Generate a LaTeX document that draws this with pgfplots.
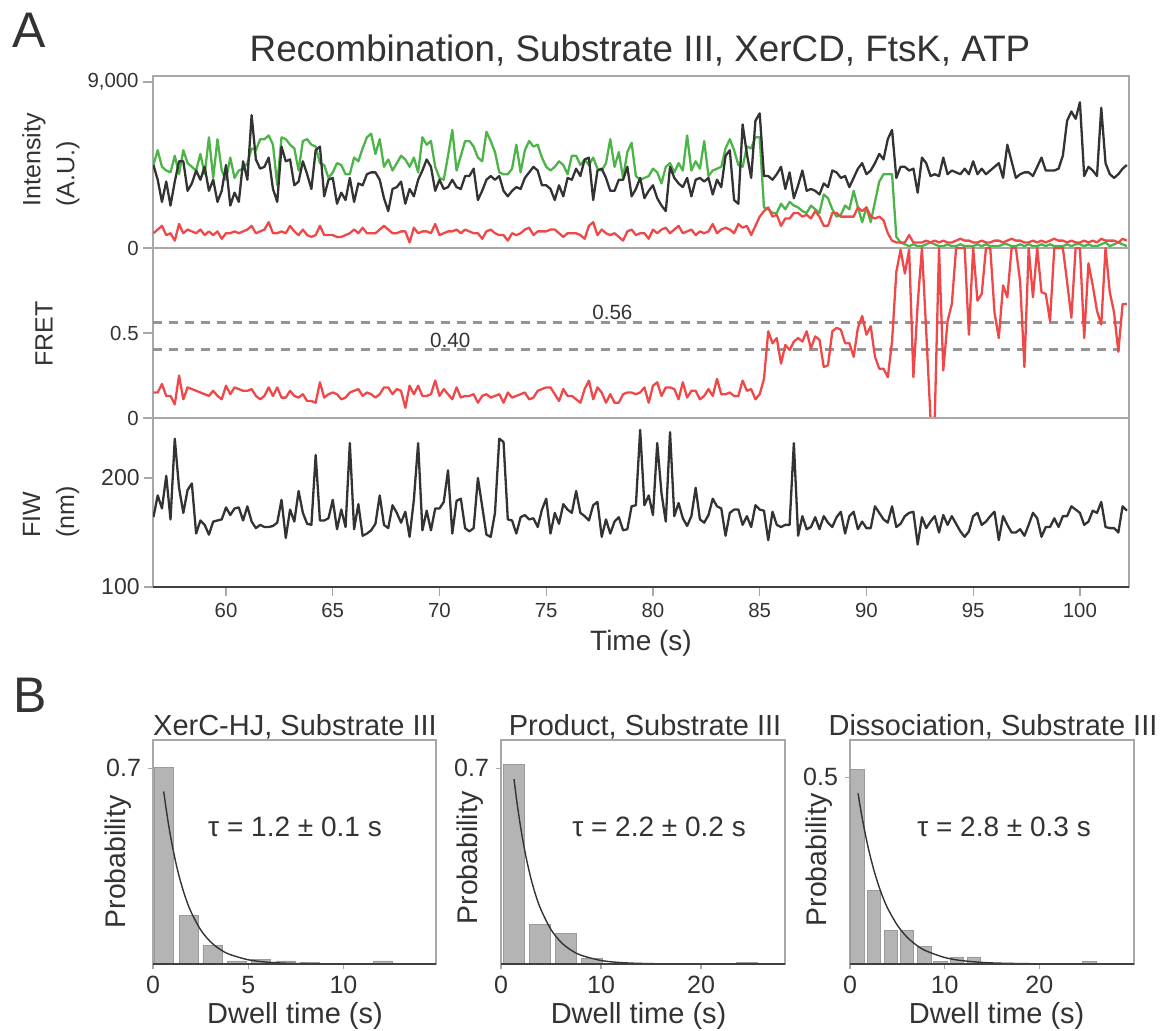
\documentclass[border=0pt]{standalone}
\usepackage{fontspec}
\setmainfont{Liberation Sans}
\usepackage{pgfplots}
\pgfplotsset{compat=1.18}
\usepackage{pgfplotstable}
\definecolor{txt}{HTML}{333333}
\definecolor{tgreen}{HTML}{4CB448}
\definecolor{tred}{HTML}{F04848}
\definecolor{tblack}{HTML}{333333}
\definecolor{framegray}{HTML}{A8A8A8}
\definecolor{bargray}{HTML}{B4B4B4}
\definecolor{baredge}{HTML}{9A9A9A}

\pgfplotstableread{
t blk grn red fret fiw
56.6 4500 4500 800 0.15 164
56.8 3700 5300 1000 0.15 184
57.0 2500 4400 1200 0.20 172
57.2 3600 4200 700 0.13 202
57.4 2300 4100 800 0.13 162
57.6 3600 5000 400 0.08 236
57.8 4700 4000 1300 0.25 191
58.0 4700 5300 800 0.11 168
58.2 3100 4600 1000 0.18 189
58.4 3500 4400 900 0.17 195
58.6 4200 4200 800 0.16 149
58.8 3700 5100 1000 0.15 161
59.0 4400 4000 700 0.14 157
59.2 3100 6000 900 0.13 148
59.4 3700 3800 700 0.16 160
59.6 2500 5900 900 0.13 161
59.8 3100 4200 500 0.11 162
60.0 4500 3700 800 0.19 173
60.2 2300 4900 800 0.14 166
60.4 3000 3800 900 0.18 172
60.6 2500 4200 800 0.17 173
60.8 4700 4300 900 0.16 161
61.0 3700 4600 1000 0.16 174
61.2 7200 5400 1200 0.17 160
61.4 4800 5300 800 0.13 154
61.6 4300 5900 900 0.11 157
61.8 4400 5900 1000 0.13 155
62.0 4900 6100 1400 0.18 155
62.2 3200 5600 800 0.13 156
62.4 2500 3400 800 0.18 159
62.6 5500 6000 900 0.12 180
62.8 4700 5900 800 0.12 145
63.0 4800 5600 1200 0.16 171
63.2 3400 5400 900 0.13 160
63.4 3600 4200 700 0.12 188
63.6 4700 5800 1000 0.14 168
63.8 4000 5900 700 0.10 158
64.0 3200 5600 600 0.10 157
64.2 5300 5500 700 0.09 221
64.4 5500 4600 1200 0.21 161
64.6 2800 4500 700 0.12 161
64.8 3700 3800 700 0.14 163
65.0 3800 4100 700 0.15 180
65.2 2400 4600 600 0.14 153
65.4 3000 4500 600 0.11 171
65.6 2600 4000 700 0.12 155
65.8 3800 4000 800 0.15 232
66.0 2500 4900 1000 0.16 153
66.2 3500 4700 800 0.17 176
66.4 3400 5400 1100 0.13 147
66.6 4000 6000 800 0.15 149
66.8 4100 6200 800 0.14 152
67.0 4100 5100 800 0.12 158
67.2 3700 5900 1000 0.14 184
67.4 2700 4400 1200 0.18 157
67.6 2000 4800 1000 0.18 154
67.8 3200 4200 800 0.14 175
68.0 3300 4600 800 0.17 168
68.2 3600 5000 900 0.16 159
68.4 2400 4800 900 0.06 169
68.6 3200 4400 300 0.19 146
68.8 2800 4900 1100 0.14 180
69.0 3700 4100 800 0.19 232
69.2 4200 6000 900 0.13 152
69.4 4800 5600 900 0.13 170
69.6 4400 5800 800 0.14 152
69.8 3100 4400 1300 0.22 172
70.0 3700 3800 700 0.13 172
70.2 3200 3700 800 0.17 178
70.4 3300 5000 900 0.14 207
70.6 3700 6400 900 0.11 149
70.8 3300 4200 1000 0.18 179
71.0 3200 5000 800 0.12 181
71.2 3900 5800 1000 0.13 154
71.4 3900 5800 900 0.13 151
71.6 4300 5500 800 0.14 154
71.8 2600 4900 800 0.09 200
72.0 3100 4700 500 0.13 174
72.2 3700 6300 900 0.14 148
72.4 3900 5800 1000 0.12 146
72.6 3700 5200 800 0.13 168
72.8 3900 4100 700 0.14 236
73.0 3100 4000 700 0.09 233
73.2 2800 4000 400 0.15 162
73.4 3100 4300 800 0.12 161
73.6 3300 5600 700 0.13 149
73.8 3200 4100 800 0.14 164
74.0 3800 5300 1000 0.15 166
74.2 4100 5800 1100 0.11 162
74.4 4400 5500 700 0.12 163
74.6 4200 5600 900 0.16 155
74.8 3400 4900 900 0.17 171
75.0 3400 4400 900 0.18 181
75.2 3200 4200 1000 0.18 149
75.4 2600 4400 1000 0.14 168
75.6 3400 4700 800 0.10 158
75.8 2800 4500 600 0.17 176
76.0 3800 4000 800 0.13 171
76.2 3700 5000 800 0.13 168
76.4 4300 5000 800 0.11 188
76.6 3900 4500 700 0.09 168
76.8 4800 4800 500 0.17 165
77.0 4900 4500 1200 0.22 161
77.2 2600 4900 1400 0.11 175
77.4 4200 4300 700 0.18 178
77.6 4300 4200 1000 0.15 146
77.8 3800 4600 800 0.09 162
78.0 3100 5900 700 0.14 149
78.2 3100 4400 800 0.09 160
78.4 3700 5200 600 0.09 164
78.6 3700 3800 400 0.14 152
78.8 4400 5200 900 0.15 153
79.0 2800 5700 1000 0.15 174
79.2 3200 3900 700 0.14 175
79.4 3800 3700 800 0.15 244
79.6 2700 3800 800 0.18 175
79.8 3100 3900 500 0.09 184
80.0 3400 4300 1000 0.19 166
80.2 2700 4100 800 0.21 232
80.4 2300 3500 1000 0.13 186
80.6 2000 4400 1100 0.18 160
80.8 4400 4600 800 0.18 242
81.0 3800 4100 1000 0.17 165
81.2 3500 4600 1200 0.11 177
81.4 3300 4200 800 0.21 163
81.6 3800 6100 900 0.12 156
81.8 2800 4200 1000 0.16 165
82.0 3700 4700 700 0.16 191
82.2 3800 4300 900 0.11 162
82.4 3600 5800 800 0.13 159
82.6 3800 3900 900 0.17 166
82.8 2900 4200 1300 0.13 181
83.0 3700 4300 800 0.23 174
83.2 3300 4400 1000 0.14 172
83.4 5000 5400 1100 0.14 147
83.6 5300 5900 1000 0.15 168
83.8 2600 5300 800 0.13 171
84.0 2400 4500 1300 0.13 171
84.2 6700 4400 1100 0.22 157
84.4 5100 5500 1200 0.16 165
84.6 3800 5400 700 0.17 155
84.8 6900 6000 1200 0.11 175
85.0 7300 6000 1700 0.14 171
85.2 3900 2200 2000 0.23 170
85.4 3900 2100 2200 0.51 143
85.6 3700 1900 1700 0.44 169
85.8 4000 1900 1800 0.47 157
86.0 4400 2400 1200 0.32 155
86.2 3200 2100 1600 0.43 157
86.4 4100 2500 1600 0.40 157
86.6 2700 2300 1900 0.45 232
86.8 3400 2200 1900 0.47 147
87.0 4200 2000 1700 0.45 165
87.2 3100 1900 1800 0.51 153
87.4 3200 2300 1600 0.41 155
87.6 3100 2100 2000 0.48 164
87.8 2900 1900 1700 0.46 153
88.0 3500 2900 1200 0.30 165
88.2 3300 2700 1200 0.31 159
88.4 4200 2100 1900 0.51 155
88.6 4100 1700 1900 0.53 164
88.8 3800 1800 1700 0.52 169
89.0 3900 2300 1700 0.44 149
89.2 3300 2100 1700 0.44 165
89.4 3800 3100 1700 0.36 169
89.6 4300 2200 2200 0.53 153
89.8 4600 1400 2000 0.60 160
90.0 4000 2200 2200 0.49 154
90.2 4200 1400 1700 0.54 154
90.4 4600 2500 1600 0.36 174
90.6 5100 3600 1700 0.29 168
90.8 4800 4000 1500 0.29 162
91.0 5900 4000 800 0.24 159
91.2 6400 4000 400 0.45 174
91.4 3800 600 300 0.86 155
91.6 4400 300 300 0.99 158
91.8 4400 200 300 0.85 165
92.0 4200 100 700 0.99 168
92.2 4300 200 300 0.24 169
92.4 3000 100 300 0.67 139
92.6 4900 100 300 1.00 164
92.8 4600 200 400 0.51 154
93.0 3900 300 300 0.00 160
93.2 4000 200 400 0.00 165
93.4 3900 100 300 1.00 150
93.6 4900 100 400 0.28 166
93.8 4000 200 300 0.57 157
94.0 4200 100 300 0.67 165
94.2 4100 100 400 1.00 158
94.4 4000 200 500 1.00 151
94.6 4300 100 400 1.00 146
94.8 4000 100 400 0.49 151
95.0 4700 100 300 1.00 165
95.2 4000 200 300 0.69 168
95.4 4300 100 400 0.73 157
95.6 4000 200 300 1.00 160
95.8 4200 100 300 1.00 165
96.0 4400 100 400 0.62 169
96.2 4600 100 400 0.47 143
96.4 3800 200 300 0.78 165
96.6 5600 200 400 0.71 157
96.8 4700 100 500 1.00 150
97.0 3800 100 400 1.00 150
97.2 4000 200 400 0.80 153
97.4 4100 100 300 0.30 147
97.6 4100 200 300 1.00 157
97.8 3900 100 400 0.71 168
98.0 4400 100 300 1.00 163
98.2 4900 200 400 0.74 146
98.4 4200 100 300 0.73 155
98.6 4200 200 400 0.57 155
98.8 4200 100 500 1.00 163
99.0 4300 100 400 1.00 155
99.2 5000 100 400 1.00 165
99.4 6900 200 300 0.80 165
99.6 7400 100 400 0.59 174
99.8 7000 200 300 1.00 171
100.0 7900 200 300 1.00 168
100.2 3900 100 400 0.47 157
100.4 4400 200 300 0.91 160
100.6 4200 100 400 0.78 170
100.8 3900 100 300 0.63 168
101.0 7600 200 500 0.55 178
101.2 4600 300 400 1.00 155
101.4 4000 100 400 0.74 154
101.6 3800 200 400 0.62 154
101.8 4000 300 300 0.39 150
102.0 4300 200 500 0.67 174
102.2 4500 100 400 0.67 170
}\trace

\pgfplotsset{
  /pgf/number format/assume math mode=true,
  pA/.style={
    scale only axis, width=488pt,
    xmin=56.58, xmax=102.3,
    axis line style={draw=framegray, line width=0.6pt},
    tick style={draw=framegray, line width=0.6pt},
    tick align=outside, major tick length=5pt,
    ytick pos=left, xtick pos=bottom,
    yticklabel style={font=\fontsize{10.2}{12}\selectfont, text=txt, inner sep=2pt},
    xticklabel style={font=\fontsize{10.2}{12}\selectfont, text=txt},
    clip mode=individual,
  },
  pB/.style={
    scale only axis, height=112pt, ymin=0,
    axis line style={draw=framegray, line width=0.6pt},
    tick style={draw=framegray, line width=0.6pt},
    tick align=outside, major tick length=2.5pt,
    ytick pos=left, xtick pos=bottom,
    ticklabel style={font=\fontsize{12.5}{14}\selectfont, text=txt},
    clip mode=individual,
  },
  bars/.style={ybar, bar shift=0pt, fill=bargray, draw=baredge, line width=0.4pt},
  fit/.style={draw=txt, line width=0.7pt, mark=none, smooth},
  trace/.style={line width=1.15pt, line join=round},
}

\begin{document}
\begin{tikzpicture}[x=1pt,y=1pt]
\path[use as bounding box] (0pt,0pt) rectangle (585pt,-515.5pt);

% ---------------- Panel A ----------------
\node[anchor=base west, inner sep=0, font=\fontsize{25}{30}\selectfont, text=txt] at (6pt,-24pt) {A};
\node[anchor=base, inner sep=0, font=\fontsize{18.4}{22}\selectfont, text=txt] at (320pt,-31pt) {Recombination, Substrate III, XerCD, FtsK, ATP};

\begin{axis}[pA, at={(76.5pt,-38pt)}, anchor=north west, height=86pt,
  ymin=0, ymax=9325, xtick=\empty, ytick={0,9000}, yticklabels={0,{9,000}}]
\addplot[tgreen, trace] table[x=t, y=grn] {\trace};
\addplot[tblack, trace] table[x=t, y=blk] {\trace};
\addplot[tred, trace] table[x=t, y=red] {\trace};
\draw[black!85, line width=0.8pt] (rel axis cs:0,0) -- (rel axis cs:1,0);
\end{axis}

\begin{axis}[pA, at={(76.5pt,-124pt)}, anchor=north west, height=85pt,
  ymin=0, ymax=1, xtick=\empty, ytick={0,0.5}, yticklabels={0,0.5}]
\addplot[black!42, line width=1.5pt, dash pattern=on 4.5pt off 3.5pt] coordinates {(56.58,0.56) (101.9,0.56)};
\addplot[black!42, line width=1.5pt, dash pattern=on 4.5pt off 3.5pt] coordinates {(56.58,0.40) (101.9,0.40)};
\addplot[tred, trace] table[x=t, y=fret] {\trace};
\node[font=\fontsize{10.3}{12}\selectfont, text=txt] at (axis cs:78.1,0.62) {0.56};
\node[font=\fontsize{10.3}{12}\selectfont, text=txt] at (axis cs:70.5,0.455) {0.40};
\draw[black!85, line width=0.8pt] (rel axis cs:0,0) -- (rel axis cs:1,0);
\end{axis}

\begin{axis}[pA, at={(76.5pt,-209pt)}, anchor=north west, height=84.5pt,
  ymin=100, ymax=255, ytick={100,200}, yticklabels={100,200},
  yticklabel style={font=\fontsize{11.5}{13}\selectfont},
  xtick={60,65,70,75,80,85,90,95,100}, major tick length=4.5pt]
\addplot[tblack, trace] table[x=t, y=fiw] {\trace};
\draw[black!75, line width=0.8pt] (rel axis cs:0,0) -- (rel axis cs:1,0);
\end{axis}

\node[rotate=90, align=left, inner sep=0, font=\fontsize{12.5}{17}\selectfont, text=txt] at (25.5pt,-80pt) {Intensity\\(A.U.)};
\node[rotate=90, inner sep=0, font=\fontsize{12.5}{15}\selectfont, text=txt] at (22pt,-167pt) {FRET};
\node[rotate=90, align=left, inner sep=0, font=\fontsize{12.5}{17}\selectfont, text=txt] at (25.5pt,-256pt) {FIW\\(nm)};
\node[anchor=base, inner sep=0, font=\fontsize{14}{16}\selectfont, text=txt] at (320.5pt,-325pt) {Time (s)};

% ---------------- Panel B ----------------
\node[anchor=base west, inner sep=0, font=\fontsize{25}{30}\selectfont, text=txt] at (6.5pt,-356pt) {B};

\begin{axis}[pB, at={(76.5pt,-370pt)}, anchor=north west, width=141.5pt,
  xmin=0, xmax=14.86, ymax=0.801, xtick={0,5,10}, ytick={0.7}, yticklabels={0.7}]
\addplot[bars, bar width=1.0] coordinates {(0.56,0.704) (1.88,0.175) (3.12,0.066) (4.42,0.011) (5.68,0.017) (6.98,0.011) (8.26,0.005) (9.55,0.001) (10.8,0.001) (12.07,0.011) (13.4,0.002)};
\addplot[fit] coordinates {(0.56,0.617) (0.8,0.505) (1.0,0.428) (1.25,0.347) (1.5,0.282) (1.75,0.229) (2.0,0.186) (2.5,0.1225) (3.0,0.0808) (3.5,0.0533) (4.0,0.0351) (5.0,0.0152) (6.0,0.0066) (7.0,0.0029) (8.0,0.00125) (10.0,0.00024) (12.0,0.00004) (14.0,0.0)};
\draw[black!75, line width=0.7pt] (rel axis cs:0,0) -- (rel axis cs:1,0);
\end{axis}

\begin{axis}[pB, at={(250.5pt,-370pt)}, anchor=north west, width=142pt,
  xmin=0, xmax=28.4, ymax=0.801, xtick={0,10,20}, ytick={0.7}, yticklabels={0.7}]
\addplot[bars, bar width=2.07] coordinates {(1.28,0.712) (3.9,0.140) (6.47,0.110) (9.1,0.020) (11.67,0.002) (14.3,0.001) (24.6,0.007)};
\addplot[fit] coordinates {(1.3,0.661) (1.6,0.577) (2.0,0.481) (2.5,0.383) (3.0,0.305) (3.5,0.243) (4.0,0.194) (5.0,0.123) (6.0,0.078) (7.0,0.0496) (8.0,0.0315) (10.0,0.0127) (12.0,0.0051) (15.0,0.0013) (20.0,0.00013) (28.4,0.0)};
\draw[black!75, line width=0.7pt] (rel axis cs:0,0) -- (rel axis cs:1,0);
\end{axis}

\begin{axis}[pB, at={(425pt,-370pt)}, anchor=north west, width=142pt,
  xmin=0, xmax=30, ymax=0.6, xtick={0,10,20}, ytick={0.5}, yticklabels={0.5}]
\addplot[bars, bar width=1.41] coordinates {(0.78,0.522) (2.51,0.198) (4.31,0.091) (6.04,0.091) (7.84,0.046) (9.54,0.008) (11.31,0.019) (13.11,0.019) (14.9,0.001) (16.7,0.001) (25.3,0.008)};
\addplot[fit] coordinates {(0.85,0.457) (1.2,0.403) (1.6,0.350) (2.0,0.303) (2.5,0.2535) (3.0,0.212) (3.5,0.177) (4.0,0.148) (5.0,0.1038) (6.0,0.0726) (7.0,0.0508) (8.0,0.0355) (10.0,0.0174) (12.0,0.0085) (15.0,0.0029) (20.0,0.0005) (25.0,0.0001) (28.9,0.0)};
\draw[black!75, line width=0.7pt] (rel axis cs:0,0) -- (rel axis cs:1,0);
\end{axis}

\node[anchor=base, inner sep=0, font=\fontsize{14.5}{17}\selectfont, text=txt] at (147.5pt,-367.5pt) {XerC-HJ, Substrate III};
\node[anchor=base, inner sep=0, font=\fontsize{14.5}{17}\selectfont, text=txt] at (322.5pt,-367.5pt) {Product, Substrate III};
\node[anchor=base, inner sep=0, font=\fontsize{14.5}{17}\selectfont, text=txt] at (496.5pt,-367.5pt) {Dissociation, Substrate III};

\node[anchor=base, inner sep=0, font=\fontsize{14}{17}\selectfont, text=txt] at (147.5pt,-418.3pt) {τ = 1.2 ± 0.1 s};
\node[anchor=base, inner sep=0, font=\fontsize{14}{17}\selectfont, text=txt] at (329.5pt,-418.3pt) {τ = 2.2 ± 0.2 s};
\node[anchor=base, inner sep=0, font=\fontsize{14}{17}\selectfont, text=txt] at (502pt,-418pt) {τ = 2.8 ± 0.3 s};

\node[rotate=90, inner sep=0, font=\fontsize{14.2}{17}\selectfont, text=txt] at (59pt,-431pt) {Probability};
\node[rotate=90, inner sep=0, font=\fontsize{14.2}{17}\selectfont, text=txt] at (235pt,-429pt) {Probability};
\node[rotate=90, inner sep=0, font=\fontsize{14.2}{17}\selectfont, text=txt] at (409.5pt,-430pt) {Probability};

\node[anchor=base, inner sep=0, font=\fontsize{14.5}{17}\selectfont, text=txt] at (147.5pt,-511.5pt) {Dwell time (s)};
\node[anchor=base, inner sep=0, font=\fontsize{14.5}{17}\selectfont, text=txt] at (319.3pt,-511.5pt) {Dwell time (s)};
\node[anchor=base, inner sep=0, font=\fontsize{14.5}{17}\selectfont, text=txt] at (498.3pt,-511.5pt) {Dwell time (s)};
\end{tikzpicture}
\end{document}
